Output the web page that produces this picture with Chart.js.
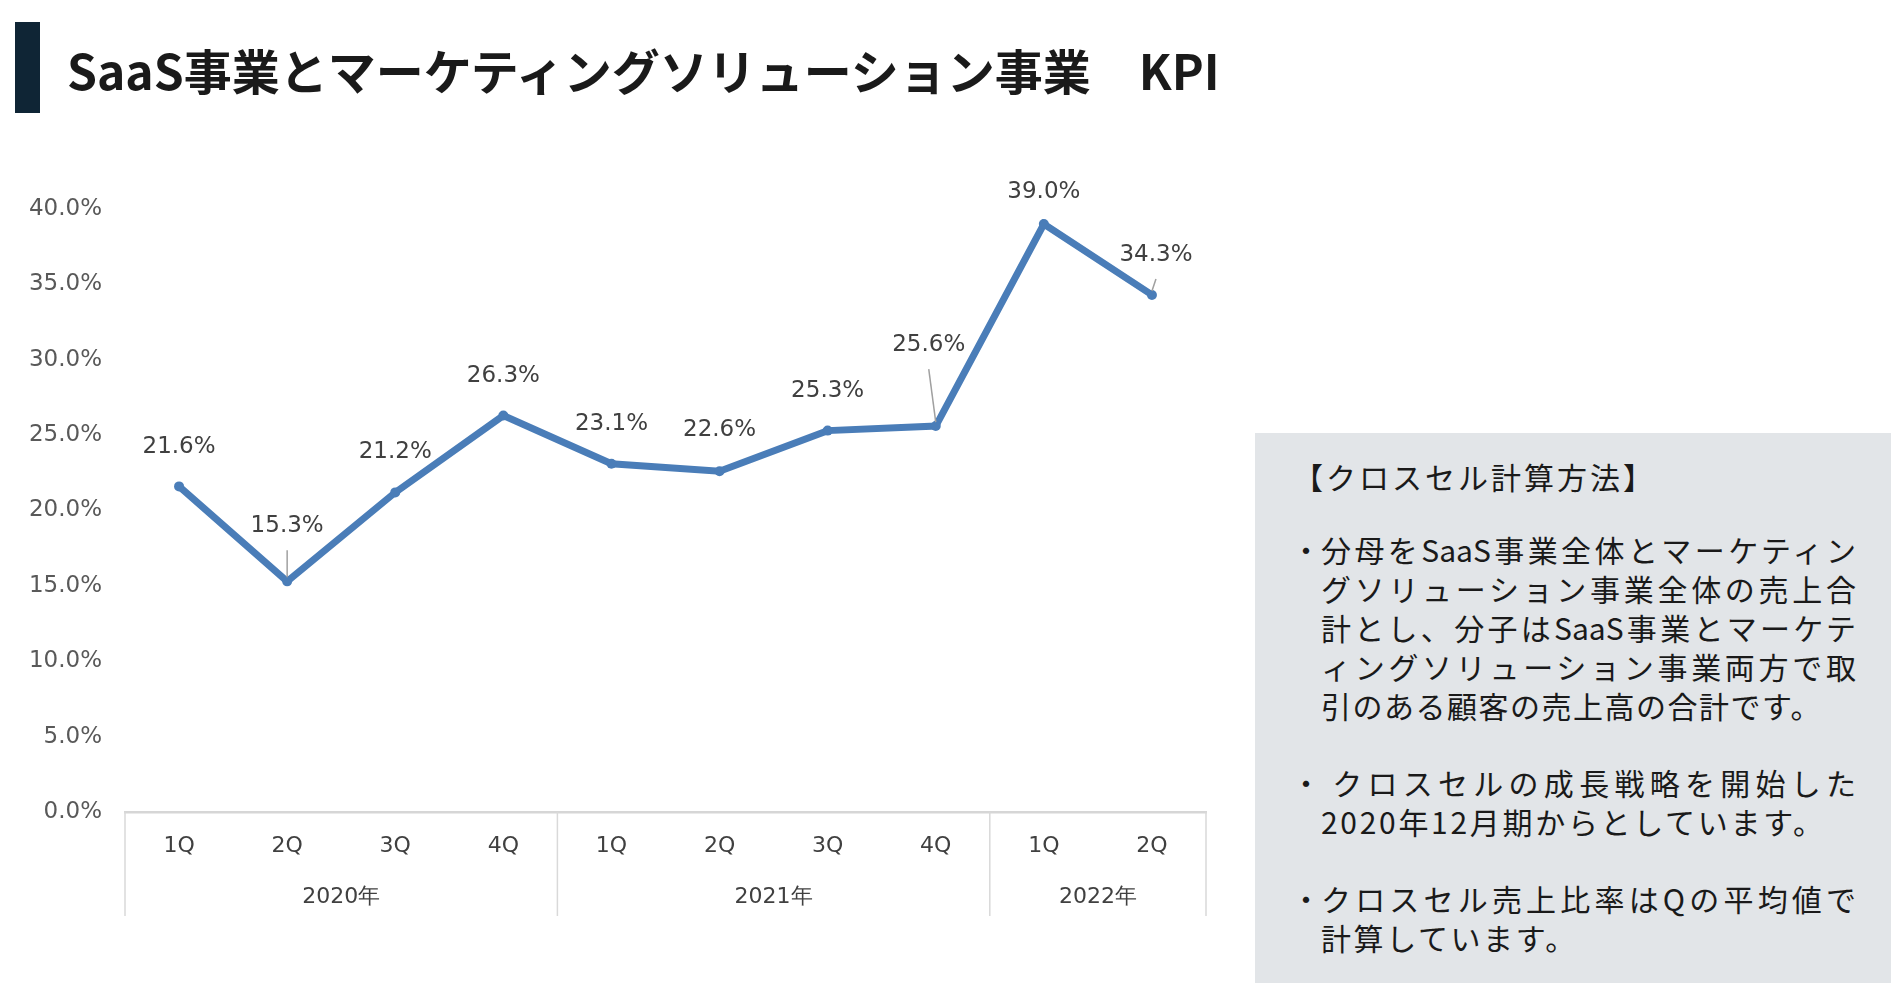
<!DOCTYPE html>
<html lang="ja">
<head>
<meta charset="utf-8">
<script src="https://cdn.jsdelivr.net/npm/chart.js@4.4.1/dist/chart.umd.min.js"></script>
<style>
  html, body { margin:0; padding:0; background:#ffffff; width:1904px; height:994px; overflow:hidden; }
  #wrap { position:absolute; left:0; top:0; width:1904px; height:994px; }
  #titleBar { position:absolute; left:15px; top:22px; width:25px; height:91px; background:#0f2535; }
  #title { position:absolute; left:67px; top:45px; font-family:"Noto Sans CJK JP","Noto Sans",sans-serif; font-weight:700; font-size:48px; line-height:48px; color:#1a1a1a; white-space:pre; }
  #panel { position:absolute; left:1255px; top:433px; width:636px; height:550px; background:#e2e5e8; font-family:"Noto Sans CJK JP","Noto Sans",sans-serif; color:#1a1a1a; }
  .ptitle { position:absolute; left:38px; top:24px; font-size:30px; line-height:39px; letter-spacing:3px; white-space:nowrap; }
  .para { position:absolute; left:66px; width:535px; font-size:30px; line-height:39px; }
  .line { white-space:nowrap; position:relative; }
  .full { text-align:justify; text-align-last:justify; }
  .bullet { position:absolute; left:-30px; top:0; }
</style>
</head>
<body>
<div id="wrap">
  <canvas id="c" width="1904" height="994"></canvas>
</div>
<div id="titleBar"></div>
<div id="title">SaaS事業とマーケティングソリューション事業　KPI</div>
<div id="panel">
  <div class="ptitle">【クロスセル計算方法】</div>
  <div class="para" style="top:97px">
    <div class="line full"><span class="bullet">・</span>分母をSaaS事業全体とマーケティン</div>
    <div class="line full">グソリューション事業全体の売上合</div>
    <div class="line full">計とし、分子はSaaS事業とマーケテ</div>
    <div class="line full">ィングソリューション事業両方で取</div>
    <div class="line" style="letter-spacing:1.5px">引のある顧客の売上高の合計です。</div>
  </div>
  <div class="para" style="top:330px">
    <div class="line full"><span class="bullet">・</span>&#8201;クロスセルの成長戦略を開始した</div>
    <div class="line" style="letter-spacing:2.7px">2020年12月期からとしています。</div>
  </div>
  <div class="para" style="top:446px">
    <div class="line full"><span class="bullet">・</span>クロスセル売上比率はQの平均値で</div>
    <div class="line" style="letter-spacing:2.6px">計算しています。</div>
  </div>
</div>
<script>
// ---- data ----
const quarters = ['1Q','2Q','3Q','4Q','1Q','2Q','3Q','4Q','1Q','2Q'];
const years = ['2020年','2021年','2022年'];
const yearCounts = [4, 4, 2];
const crossSellRatio = [21.6, 15.3, 21.2, 26.3, 23.1, 22.6, 25.3, 25.6, 39.0, 34.3];
const yTickMin = 0, yTickMax = 40, yTickStep = 5;

// ---- label layout (styling) ----
const labelOffsets = [[0,-39],[0,-55],[0,-40],[0,-39],[0,-40],[0,-41],[0,-40],[-7,-81],[0,-32],[4,-40]];
const leaderIdx = [1, 7, 9];

const FONT = '"DejaVu Sans", Verdana, sans-serif';

const dataLabelPlugin = {
  id: 'dataLabels',
  afterDatasetsDraw(chart) {
    const ctx = chart.ctx;
    const meta = chart.getDatasetMeta(0);
    ctx.save();
    meta.data.forEach((pt, i) => {
      const [dx, dy] = labelOffsets[i];
      const lx = pt.x + dx, ly = pt.y + dy;
      if (leaderIdx.includes(i)) {
        ctx.strokeStyle = '#a0a0a0';
        ctx.lineWidth = 1.5;
        ctx.beginPath();
        ctx.moveTo(lx, ly + 24);
        ctx.lineTo(pt.x, pt.y - 4);
        ctx.stroke();
      }
      ctx.fillStyle = '#404040';
      ctx.font = '23px ' + FONT;
      ctx.textAlign = 'center';
      ctx.textBaseline = 'middle';
      ctx.fillText(crossSellRatio[i].toFixed(1) + '%', lx, ly);
    });
    ctx.restore();
  }
};

const yearAxisPlugin = {
  id: 'yearAxis',
  afterDraw(chart) {
    const ctx = chart.ctx;
    const xs = chart.scales.x;
    const area = chart.chartArea;
    const half = (xs.getPixelForValue(1) - xs.getPixelForValue(0)) / 2;
    const bottom = area.bottom;
    ctx.save();
    ctx.strokeStyle = '#d9d9d9';
    ctx.lineWidth = 1.5;
    let idx = 0;
    const bounds = [area.left];
    yearCounts.forEach((n) => {
      idx += n;
      bounds.push(idx >= quarters.length ? area.right : xs.getPixelForValue(idx) - half);
    });
    bounds.forEach((bx) => {
      ctx.beginPath();
      ctx.moveTo(bx, bottom);
      ctx.lineTo(bx, bottom + 104);
      ctx.stroke();
    });
    ctx.fillStyle = '#404040';
    ctx.font = '22px ' + FONT;
    ctx.textAlign = 'center';
    ctx.textBaseline = 'middle';
    years.forEach((y, k) => {
      ctx.fillText(y, (bounds[k] + bounds[k + 1]) / 2, bottom + 85);
    });
    ctx.restore();
  }
};

new Chart(document.getElementById('c'), {
  type: 'line',
  data: {
    labels: quarters,
    datasets: [{
      data: crossSellRatio,
      borderColor: '#4a7db8',
      backgroundColor: '#4a7db8',
      borderWidth: 7,
      pointRadius: 5,
      pointBorderWidth: 0,
      pointBackgroundColor: '#4a7db8',
      tension: 0,
      clip: false
    }]
  },
  options: {
    responsive: false,
    animation: false,
    devicePixelRatio: 1,
    layout: { padding: { top: 209, right: 698, bottom: 0, left: 0 } },
    plugins: { legend: { display: false }, tooltip: { enabled: false }, title: { display: false } },
    scales: {
      x: {
        offset: true,
        grid: { display: false, drawTicks: false },
        border: { display: true, color: '#d6d6d6', width: 2.5 },
        ticks: { color: '#404040', font: { family: FONT, size: 22 }, padding: 21, maxRotation: 0, autoSkip: false },
        afterFit(s) { s.height = 182; }
      },
      y: {
        min: yTickMin, max: yTickMax,
        grid: { display: false, drawTicks: false },
        border: { display: false },
        ticks: { stepSize: yTickStep, color: '#595959', font: { family: FONT, size: 23 }, padding: 23,
                 callback: (v) => v.toFixed(1) + '%' },
        afterFit(s) { s.width = 125; }
      }
    }
  },
  plugins: [dataLabelPlugin, yearAxisPlugin]
});
</script>
</body>
</html>
